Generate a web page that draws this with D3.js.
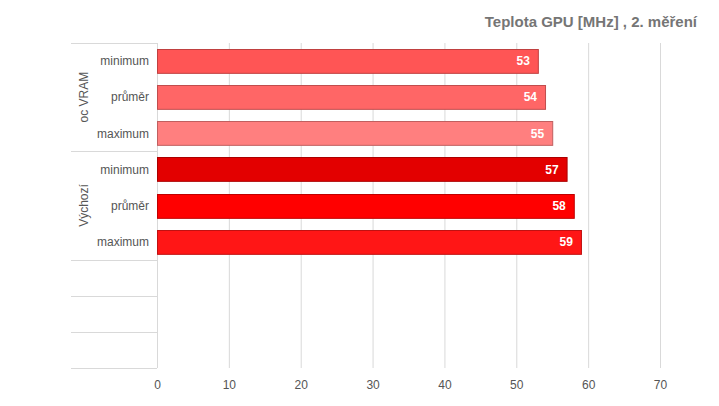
<!DOCTYPE html>
<html>
<head>
<meta charset="utf-8">
<script src="https://cdn.jsdelivr.net/npm/d3@7"></script>
<style>
  body { margin: 0; background: #fff; }
  text { font-family: "Liberation Sans", Arial, sans-serif; }
</style>
</head>
<body>
<svg id="chart"></svg>
<script>
const title = 'Teplota GPU [MHz] , 2. měření'
const groups = ['oc VRAM', 'Výchozí']
const categories = ['minimum', 'průměr', 'maximum']
const values = [[53, 54, 55], [57, 58, 59]]
const colors = [['#ff5555', '#ff6666', '#ff7f7f'], ['#e30000', '#ff0000', '#ff1616']]
const xTicks = [0, 10, 20, 30, 40, 50, 60, 70]
const slotCount = 9

const dimension = { width: 719, height: 406 }
const margin = { top: 43, right: 59, bottom: 38, left: 157 }
const width = dimension.width - margin.left - margin.right
const height = dimension.height - margin.top - margin.bottom

const rows = []
groups.forEach((g, gi) => {
  categories.forEach((c, ci) => {
    rows.push({ group: g, label: c, value: values[gi][ci], color: colors[gi][ci], key: gi * categories.length + ci })
  })
})

const svgElement = d3.select('#chart')
  .attr('width', dimension.width)
  .attr('height', dimension.height)

const xScale = d3.scaleLinear().domain([0, 70]).range([0, width])
const slot = d3.scaleBand().domain(d3.range(slotCount)).range([0, height])
const yScale = d3.scaleBand().domain(d3.range(slotCount)).range([0, height]).paddingInner(0.34).paddingOuter(0.17)

const svg = svgElement.append('g')
  .attr('transform', `translate(${margin.left}, ${margin.top})`)

// title
svgElement.append('text')
  .attr('x', 697)
  .attr('y', 27)
  .attr('text-anchor', 'end')
  .attr('font-size', 15)
  .attr('font-weight', 'bold')
  .attr('fill', '#757575')
  .text(title)

// vertical grid
svg.append('g')
  .selectAll('line')
  .data(xTicks)
  .enter()
  .append('line')
  .attr('x1', (d) => xScale(d) + 0.5)
  .attr('x2', (d) => xScale(d) + 0.5)
  .attr('y1', 0)
  .attr('y2', height)
  .attr('stroke', '#d9d9d9')

// category separators on the left
const sepSlots = [0, 3, 6, 7, 8, 9]
svg.append('g')
  .selectAll('line')
  .data(sepSlots)
  .enter()
  .append('line')
  .attr('x1', -86)
  .attr('x2', 0)
  .attr('y1', (d) => Math.round(d * slot.step()) + 0.5)
  .attr('y2', (d) => Math.round(d * slot.step()) + 0.5)
  .attr('stroke', '#d9d9d9')

// x axis labels
const xAxis = svg.append('g')
  .attr('transform', `translate(0, ${height})`)
  .call(d3.axisBottom(xScale).tickValues(xTicks).tickSize(0).tickPadding(12))
xAxis.select('.domain').remove()
xAxis.selectAll('text')
  .attr('font-size', 12)
  .attr('fill', '#555')
  .attr('font-family', '"Liberation Sans", Arial, sans-serif')

// bars
svg.selectAll('.bar')
  .data(rows)
  .enter()
  .append('rect')
  .attr('class', 'bar')
  .attr('x', 0.5)
  .attr('y', (d) => Math.round(yScale(d.key)) + 0.5)
  .attr('width', (d) => xScale(d.value))
  .attr('height', yScale.bandwidth())
  .attr('fill', (d) => d.color)
  .attr('stroke', (d) => d3.color(d.color).darker(0.8))
  .attr('stroke-width', 1)

// value labels
svg.selectAll('.val')
  .data(rows)
  .enter()
  .append('text')
  .attr('x', (d) => xScale(d.value) - 8)
  .attr('y', (d) => yScale(d.key) + yScale.bandwidth() / 2)
  .attr('dy', '0.36em')
  .attr('text-anchor', 'end')
  .attr('font-size', 12)
  .attr('font-weight', 'bold')
  .attr('fill', '#fff')
  .text((d) => d.value)

// category labels
svg.selectAll('.cat')
  .data(rows)
  .enter()
  .append('text')
  .attr('x', -8)
  .attr('y', (d) => slot(d.key) + slot.step() / 2)
  .attr('dy', '0.36em')
  .attr('text-anchor', 'end')
  .attr('font-size', 12)
  .attr('fill', '#555')
  .text((d) => d.label)

// group labels
svg.selectAll('.grp')
  .data(groups)
  .enter()
  .append('text')
  .attr('transform', (d, i) => `translate(-73, ${(i * 3 + 1.5) * slot.step()}) rotate(-90)`)
  .attr('dy', '0.36em')
  .attr('text-anchor', 'middle')
  .attr('font-size', 12)
  .attr('fill', '#555')
  .text((d) => d)
</script>
</body>
</html>
